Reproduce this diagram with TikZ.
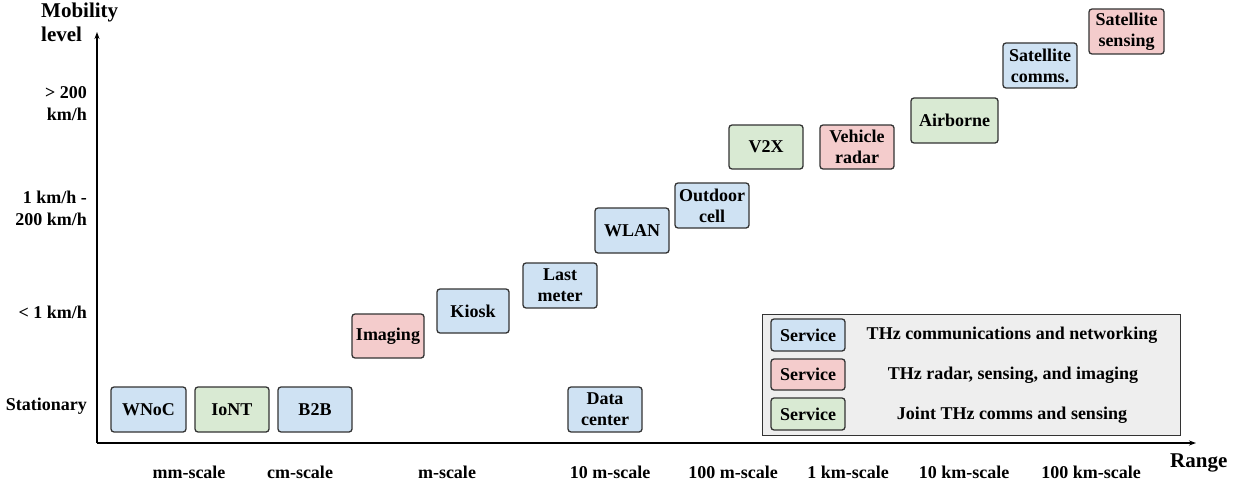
\documentclass[tikz,border=0pt]{standalone}
\usepackage{fontspec}
\setmainfont{Liberation Serif}
\usetikzlibrary{arrows.meta}
\definecolor{cblue}{HTML}{CFE2F3}
\definecolor{cred}{HTML}{F4CCCC}
\definecolor{cgreen}{HTML}{D9EAD3}
\definecolor{cleg}{HTML}{EEEEEE}
\definecolor{cedge}{HTML}{333333}
\tikzset{
  x=1pt, y=-1pt,
  svc/.style={draw=cedge, line width=1.3pt, rounded corners=3pt, align=center,
    font=\bfseries\fontsize{18}{21}\selectfont, inner sep=0pt},
  bl/.style={svc, fill=cblue},
  rd/.style={svc, fill=cred},
  gr/.style={svc, fill=cgreen},
  lab/.style={font=\bfseries\fontsize{18}{22}\selectfont, inner sep=0pt},
  ttl/.style={font=\bfseries\fontsize{21}{24}\selectfont, inner sep=0pt},
  axis/.style={line width=1.3pt, -{Stealth[length=7pt,width=5pt]}},
}
\newcommand{\svcbox}[6]{% style, name, x1, y1, x2, y2
}
\begin{document}
\begin{tikzpicture}
\useasboundingbox (0,0) rectangle (1240,487);
% axes
\coordinate (O) at (97,443);
\coordinate (Ytop) at (97,32);
\coordinate (Xend) at (1196,443);
\draw[axis] (O) -- (Ytop);
\draw[axis] (O) -- (Xend);
% axis titles
\node[ttl, anchor=north west, align=left] (ylab) at (41,3) {Mobility\\level};
\node[ttl, anchor=base west] (xlab) at (1170,467) {Range};
% y labels
\node[lab, anchor=east, align=right] (y1) at (87,104) {> 200\\km/h};
\node[lab, anchor=east, align=right] (y2) at (87,208) {1 km/h -\\200 km/h};
\node[lab, anchor=base east] (y3) at (87,318) {< 1 km/h};
\node[lab, anchor=base east] (y4) at (87,410) {Stationary};
% x labels
\foreach \n/\xx/\t in {x1/189/mm-scale, x2/300/cm-scale, x3/447/m-scale, x4/610/10 m-scale,
  x5/733/100 m-scale, x6/848/1 km-scale, x7/964/10 km-scale, x8/1091/100 km-scale}
  \node[lab, anchor=base] (\n) at (\xx,478) {\t};
% service boxes
\node[bl, minimum width=75pt, minimum height=45pt] (wnoc) at (148.5,409.5) {WNoC};
\node[gr, minimum width=74pt, minimum height=45pt] (iont) at (232,409.5) {IoNT};
\node[bl, minimum width=74pt, minimum height=45pt] (b2b) at (315,409.5) {B2B};
\node[rd, minimum width=72pt, minimum height=44pt] (imaging) at (388,336) {Imaging};
\node[bl, minimum width=72pt, minimum height=44pt] (kiosk) at (473,311) {Kiosk};
\node[bl, minimum width=74pt, minimum height=45pt] (last) at (560,285.5) {Last\\meter};
\node[bl, minimum width=74pt, minimum height=45pt] (data) at (605,409.5) {Data\\center};
\node[bl, minimum width=74pt, minimum height=45pt] (wlan) at (632,230.5) {WLAN};
\node[bl, minimum width=74pt, minimum height=45pt] (outdoor) at (712,205.5) {Outdoor\\cell};
\node[gr, minimum width=74pt, minimum height=44pt] (v2x) at (766,147) {V2X};
\node[rd, minimum width=74pt, minimum height=44pt] (vradar) at (857,147) {Vehicle\\radar};
\node[gr, minimum width=87pt, minimum height=45pt] (air) at (954.5,120.5) {Airborne};
\node[bl, minimum width=74pt, minimum height=45pt] (scomm) at (1040,65.5) {Satellite\\comms.};
\node[rd, minimum width=75pt, minimum height=45pt] (ssens) at (1126.5,31.5) {Satellite\\sensing};
% legend
\node[draw=cedge, line width=1pt, fill=cleg, minimum width=418pt, minimum height=121pt, inner sep=0pt] (legend) at (971,374.5) {};
\node[bl, minimum width=74pt, minimum height=32pt] (l1) at (808,335) {Service};
\node[rd, minimum width=74pt, minimum height=31pt] (l2) at (808,374.5) {Service};
\node[gr, minimum width=74pt, minimum height=32pt] (l3) at (808,414) {Service};
\node[lab, anchor=base] (t1) at (1012,339) {THz communications and networking};
\node[lab, anchor=base] (t2) at (1013,379) {THz radar, sensing, and imaging};
\node[lab, anchor=base] (t3) at (1012,419) {Joint THz comms and sensing};
\end{tikzpicture}
\end{document}
